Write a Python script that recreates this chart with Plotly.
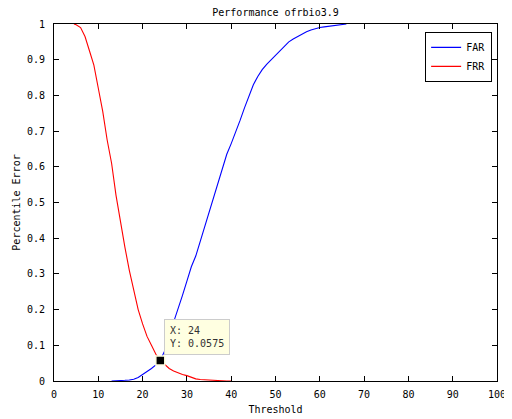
import plotly.graph_objects as go

# FRR (red)
frr_x = [4.5, 5, 6, 7, 8, 9, 10, 11, 12, 13, 14, 15, 16, 17, 18, 19, 20, 21, 22, 23, 24,
         25, 26, 27, 28, 29, 30, 31, 32, 33, 34, 35, 36, 37, 38, 39, 40]
frr_y = [1.0, 0.998, 0.99, 0.965, 0.925, 0.885, 0.82, 0.755, 0.675, 0.61, 0.52, 0.445, 0.375,
         0.31, 0.255, 0.2, 0.16, 0.125, 0.1, 0.075, 0.0575, 0.045, 0.035, 0.028, 0.022,
         0.018, 0.015, 0.01, 0.006, 0.004, 0.003, 0.002, 0.001, 0.001, 0.0005, 0.0, 0.0]

# FAR (blue)
far_x = [13, 14, 15, 16, 17, 18, 19, 20, 21, 22, 23, 24, 25, 26, 27, 28, 29, 30, 31, 32,
         33, 34, 35, 36, 37, 38, 39, 40, 41, 42, 43, 44, 45, 46, 47, 48, 49, 50, 51, 52,
         53, 54, 55, 56, 57, 58, 59, 60, 61, 62, 63, 64, 65, 66]
far_y = [0.0, 0.0, 0.001, 0.002, 0.003, 0.005, 0.01, 0.018, 0.027, 0.035, 0.045, 0.0575,
         0.085, 0.13, 0.165, 0.2, 0.24, 0.28, 0.32, 0.35, 0.39, 0.43, 0.47, 0.51, 0.555,
         0.595, 0.635, 0.665, 0.695, 0.73, 0.765, 0.8, 0.83, 0.853, 0.872, 0.887, 0.9, 0.912,
         0.925, 0.94, 0.95, 0.958, 0.965, 0.972, 0.978, 0.983, 0.987, 0.99, 0.992, 0.994,
         0.996, 0.998, 0.999, 1.0]

tip_x = 24
tip_y = 0.0575

x_ticks = [0, 10, 20, 30, 40, 50, 60, 70, 80, 90, 100]
y_ticks = [0, 0.1, 0.2, 0.3, 0.4, 0.5, 0.6, 0.7, 0.8, 0.9, 1]
y_tick_text = ["0", "0.1", "0.2", "0.3", "0.4", "0.5", "0.6", "0.7", "0.8", "0.9", "1"]

FONT = "DejaVu Sans Mono"
font = dict(family=FONT, size=10, color="black")

fig = go.Figure()
fig.add_trace(go.Scatter(x=far_x, y=far_y, mode="lines", name="FAR",
                         line=dict(color="blue", width=1.1)))
fig.add_trace(go.Scatter(x=frr_x, y=frr_y, mode="lines", name="FRR",
                         line=dict(color="red", width=1.1)))
fig.add_trace(go.Scatter(x=[tip_x], y=[tip_y], mode="markers", showlegend=False,
                         marker=dict(symbol="square", size=9, color="black",
                                     line=dict(color="#FFFFE1", width=1.5))))

fig.add_annotation(x=tip_x, y=tip_y, xref="x", yref="y", showarrow=False,
                   text=f"X: {tip_x}<br>Y: {tip_y}", align="left",
                   xanchor="left", yanchor="bottom", xshift=4, yshift=5,
                   bgcolor="#FFFFE1", bordercolor="#CCCCCC", borderwidth=1, borderpad=5,
                   font=dict(family=FONT, size=10, color="#333333"))

# The page body has an 8px default margin; the figure is sized to compensate.
fig.update_layout(
    width=504, height=411,
    margin=dict(l=46, r=6, t=16, b=38),
    paper_bgcolor="white", plot_bgcolor="white",
    font=font,
    title=dict(text="Performance ofrbio3.9", x=0.5, xref="paper",
               y=1 - 4 / 411, yref="container", yanchor="middle",
               font=dict(family=FONT, size=10, color="black")),
    legend=dict(x=0.989, y=0.978, xanchor="right", yanchor="top",
                bordercolor="black", borderwidth=1, bgcolor="white",
                font=dict(family=FONT, size=10, color="black"),
                tracegroupgap=0),
)
fig.update_xaxes(range=[0, 100], tickvals=x_ticks, ticks="inside", ticklen=5,
                 showline=True, linecolor="black", linewidth=1, mirror="ticks",
                 showgrid=False, zeroline=False, tickcolor="black",
                 ticklabeloverflow="allow", ticklabelstandoff=4,
                 title=dict(text="Threshold", standoff=6,
                            font=dict(family=FONT, size=10, color="black")))
fig.update_yaxes(range=[0, 1], tickvals=y_ticks, ticktext=y_tick_text, ticks="inside",
                 ticklen=5, showline=True, linecolor="black", linewidth=1, mirror="ticks",
                 showgrid=False, zeroline=False, tickcolor="black",
                 ticklabelstandoff=6,
                 title=dict(text="Percentile Error", standoff=4,
                            font=dict(family=FONT, size=10, color="black")))

fig.write_html("out.html")
